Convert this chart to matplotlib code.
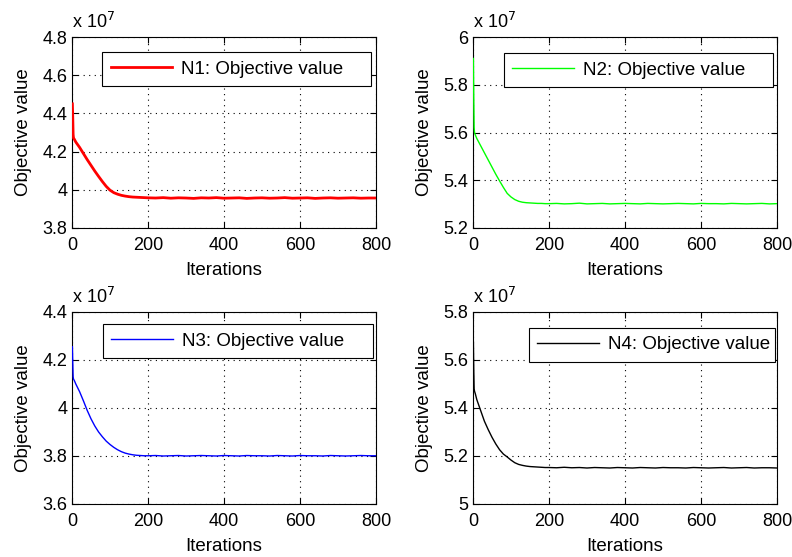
import matplotlib
matplotlib.use("Agg")
import matplotlib.pyplot as plt

plt.rcParams["font.family"] = ["Liberation Sans", "DejaVu Sans"]

# Values are in units of 1e7.
iters_head = [1, 2, 3, 4, 6, 10, 20, 30, 40, 50, 60, 70, 80, 90, 100,
              110, 120, 130, 140, 150, 160, 170, 180, 190]
iters_tail = [200, 220, 240, 260, 280, 300, 320, 340, 360, 380, 400, 420,
              440, 460, 480, 500, 520, 540, 560, 580, 600, 620, 640, 660,
              680, 700, 720, 740, 760, 780, 800]

n1_head = [4.45, 4.38, 4.29, 4.27, 4.265, 4.25, 4.222, 4.19, 4.158, 4.128,
           4.098, 4.07, 4.043, 4.018, 3.998, 3.985, 3.977, 3.971, 3.967,
           3.964, 3.962, 3.961, 3.960, 3.959]
n1_tail = [3.958, 3.957, 3.959, 3.956, 3.958, 3.957, 3.955, 3.958, 3.957,
           3.959, 3.956, 3.957, 3.958, 3.955, 3.957, 3.958, 3.956, 3.957,
           3.959, 3.956, 3.957, 3.958, 3.955, 3.957, 3.958, 3.956, 3.957,
           3.958, 3.956, 3.957, 3.957]

n2_head = [5.91, 5.75, 5.62, 5.60, 5.59, 5.575, 5.545, 5.515, 5.485, 5.455,
           5.425, 5.397, 5.37, 5.345, 5.33, 5.319, 5.312, 5.308, 5.306,
           5.305, 5.304, 5.303, 5.303, 5.302]
n2_tail = [5.302, 5.303, 5.301, 5.302, 5.304, 5.301, 5.302, 5.303, 5.301,
           5.302, 5.303, 5.302, 5.301, 5.303, 5.302, 5.301, 5.302, 5.303,
           5.302, 5.301, 5.303, 5.302, 5.302, 5.301, 5.303, 5.302, 5.301,
           5.302, 5.303, 5.301, 5.302]

n3_head = [4.255, 4.19, 4.13, 4.12, 4.115, 4.10, 4.068, 4.03, 3.99, 3.955,
           3.925, 3.9, 3.88, 3.862, 3.848, 3.836, 3.826, 3.818, 3.812, 3.808,
           3.805, 3.803, 3.802, 3.801]
n3_tail = [3.801, 3.802, 3.800, 3.801, 3.802, 3.800, 3.801, 3.802, 3.801,
           3.800, 3.802, 3.801, 3.800, 3.802, 3.801, 3.801, 3.800, 3.802,
           3.801, 3.800, 3.802, 3.801, 3.801, 3.800, 3.802, 3.801, 3.800,
           3.801, 3.802, 3.801, 3.801]

n4_head = [5.675, 5.56, 5.48, 5.47, 5.46, 5.435, 5.39, 5.345, 5.31, 5.278,
           5.25, 5.226, 5.208, 5.196, 5.183, 5.172, 5.165, 5.161, 5.158,
           5.156, 5.155, 5.154, 5.153, 5.152]
n4_tail = [5.152, 5.151, 5.153, 5.151, 5.152, 5.150, 5.152, 5.151, 5.150,
           5.152, 5.151, 5.150, 5.152, 5.151, 5.150, 5.152, 5.151, 5.151,
           5.150, 5.152, 5.151, 5.150, 5.151, 5.152, 5.150, 5.151, 5.152,
           5.150, 5.151, 5.151, 5.150]

labels = ["N1: Objective value", "N2: Objective value",
          "N3: Objective value", "N4: Objective value"]
colors = ["#ff0000", "#00ff00", "#0000ff", "#000000"]
series = [n1_head + n1_tail, n2_head + n2_tail,
          n3_head + n3_tail, n4_head + n4_tail]
ylims = [(3.8, 4.8), (5.2, 6.0), (3.6, 4.4), (5.0, 5.8)]
yticks = [[3.8, 4, 4.2, 4.4, 4.6, 4.8], [5.2, 5.4, 5.6, 5.8, 6],
          [3.6, 3.8, 4, 4.2, 4.4], [5, 5.2, 5.4, 5.6, 5.8]]
widths = [2.0, 1.0, 1.0, 1.0]

iters = iters_head + iters_tail

W, H = 792, 557
fig = plt.figure(figsize=(W / 100, H / 100), dpi=100)


def px_box(left, top, right, bottom):
    return [left / W, 1 - bottom / H, (right - left) / W, (bottom - top) / H]


boxes = [
    px_box(72, 37, 376, 228),
    px_box(473, 37, 777, 228),
    px_box(72, 312, 376, 504),
    px_box(473, 312, 777, 504),
]
# legend frame (x0, width, top) in axes fractions
legend_boxes = [(0.099, 0.885, 0.921), (0.102, 0.885, 0.916),
                (0.102, 0.888, 0.9375), (0.184, 0.809, 0.917)]

for box, lbox, y, lab, col, lim, yt, lw in zip(boxes, legend_boxes, series,
                                               labels, colors, ylims, yticks,
                                               widths):
    ax = fig.add_axes(box)
    ax.plot(iters, y, color=col, linewidth=lw, label=lab, zorder=3)
    ax.set_xlim(0, 800)
    ax.set_ylim(*lim)
    ax.set_xticks([0, 200, 400, 600, 800])
    ax.set_yticks(yt)
    ax.set_yticklabels([f"{v:g}" for v in yt])
    ax.tick_params(direction="in", top=True, right=True, labelsize=13,
                   length=4, width=0.8)
    ax.tick_params(axis="x", pad=6.5)
    ax.tick_params(axis="y", pad=3.5)
    ax.grid(True, linestyle=(0, (1, 4)), color="black", linewidth=0.8)
    for sp in ax.spines.values():
        sp.set_linewidth(0.8)
    ax.set_xlabel("Iterations", fontsize=13.5, labelpad=6)
    ax.set_ylabel("Objective value", fontsize=13.5, labelpad=7)
    ax.text(0.0, 1.025, r"x 10$^{7}$", transform=ax.transAxes,
            fontsize=13, ha="left", va="bottom")
    x0, w, top = lbox
    leg = ax.legend(loc="upper left", bbox_to_anchor=(x0, 0, w, top),
                    mode="expand", fontsize=13.5, fancybox=False,
                    framealpha=1, edgecolor="black", borderaxespad=0,
                    borderpad=0.45, handlelength=3.3, handletextpad=0.45)
    leg.set_zorder(5)
    leg.get_frame().set_linewidth(0.8)

fig.savefig("out.png", dpi=100)
